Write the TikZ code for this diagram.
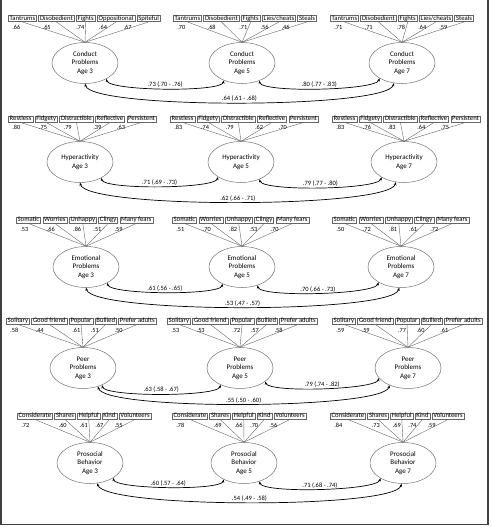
\documentclass[tikz,border=0pt]{standalone}
\usepackage{fontspec}
\setmainfont{Carlito}
\usetikzlibrary{positioning,calc,shapes.geometric,arrows.meta}

\tikzset{
  item/.style={draw=black!60, line width=0.5pt, font=\fontsize{6.7}{7}\selectfont,
    inner xsep=1.4pt, inner ysep=0pt, text height=4.8pt, text depth=1.6pt},
  factor/.style={ellipse, draw=black!55, line width=0.5pt, minimum width=66pt,
    minimum height=41pt, inner sep=0pt, align=center, font=\fontsize{7}{8.6}\selectfont},
  load/.style={font=\fontsize{6.3}{7}\selectfont, inner sep=0.5pt},
  link/.style={draw=black!60, line width=0.4pt},
  corr/.style={{Stealth[length=3.2pt,width=2.6pt]}-{Stealth[length=3.2pt,width=2.6pt]},
    line width=0.7pt},
  short/.style={out=-75, in=-105, looseness=0.27},
  long/.style={out=-75, in=-105, looseness=0.22},
  est/.style={font=\fontsize{6.5}{7}\selectfont, inner sep=0.8pt, above}
}

% #1 name, #2/#3 factor centre, #4/#5 first indicator, #6 factor text, #7 indicator/loading list
\newcommand{\factorblock}[7]{%
  \node[factor] (#1) at (#2,#3) {#6};
  \foreach \txt/\ld [count=\i] in {#7} {
    \ifnum\i=1
      \node[item, anchor=west] (#1-\i) at (#4,#5) {\txt};
    \else
      \pgfmathtruncatemacro\prev{\i-1}
      \node[item, right=1.6pt of #1-\prev] (#1-\i) {\txt};
    \fi
    \draw[link] (#1-\i.south) -- (#1.north);
    \path let \p1=(#1-\i.south west), \p2=($(#1-\i.south)!0.25!(#1.north)$) in
      node[load, anchor=east] at ({min(\x1+13pt,\x2-0.5pt)},\y2) {\ld};
  }
}

\begin{document}
\begin{tikzpicture}[x=1pt, y=1pt]
\useasboundingbox (0,0) rectangle (491,-527);
\draw[black!75, line width=1.3pt] (1,0) -- (1,-524.5) -- (488,-524.5) -- (488,0);

% conduct problems
\factorblock{con3}{85}{-63}{8}{-18.5}{Conduct\\Problems\\Age 3}
  {Tantrums/.66, Disobedient/.65, Fights/.74, Oppositional/.64, Spiteful/.67}
\factorblock{con5}{242}{-63}{173}{-18.5}{Conduct\\Problems\\Age 5}
  {Tantrums/.70, Disobedient/.68, Fights/.71, {Lies/cheats}/.56, Steals/.46}
\factorblock{con7}{402}{-63}{330}{-18.5}{Conduct\\Problems\\Age 7}
  {Tantrums/.71, Disobedient/.71, Fights/.78, {Lies/cheats}/.64, Steals/.59}
\draw[corr] (con3.-37) to[short] node[est] {.73 (.70 - .76)} (con5.-136);
\draw[corr] (con5.-46) to[short] node[est] {.80 (.77 - .83)} (con7.-146);
\draw[corr] (con3.-90) to[long] node[est] {.64 (.61 - .68)} (con7.-112);

% hyperactivity
\factorblock{hyp3}{80}{-162}{8}{-119}{Hyperactivity\\Age 3}
  {Restless/.80, Fidgety/.75, Distractible/.79, Reflective/.39, Persistent/.63}
\factorblock{hyp5}{241}{-162}{170}{-119}{Hyperactivity\\Age 5}
  {Restless/.83, Fidgety/.74, Distractible/.79, Reflective/.62, Persistent/.70}
\factorblock{hyp7}{404}{-162}{332}{-119}{Hyperactivity\\Age 7}
  {Restless/.83, Fidgety/.76, Distractible/.83, Reflective/.64, Persistent/.75}
\draw[corr] (hyp3.-37) to[short] node[est] {.71 (.69 - .73)} (hyp5.-147);
\draw[corr] (hyp5.-43) to[short] node[est] {.79 (.77 - .80)} (hyp7.-146);
\draw[corr] (hyp3.-90) to[long] node[est] {.62 (.66 - .71)} (hyp7.-112);

% emotional problems
\factorblock{emo3}{86}{-267}{16}{-220}{Emotional\\Problems\\Age 3}
  {Somatic/.53, Worries/.66, Unhappy/.86, Clingy/.51, Many fears/.59}
\factorblock{emo5}{242}{-267}{172}{-220}{Emotional\\Problems\\Age 5}
  {Somatic/.51, Worries/.70, Unhappy/.82, Clingy/.53, Many fears/.70}
\factorblock{emo7}{401}{-267}{332}{-220}{Emotional\\Problems\\Age 7}
  {Somatic/.50, Worries/.72, Unhappy/.81, Clingy/.61, Many fears/.72}
\draw[corr] (emo3.-37) to[short] node[est] {.61 (.56 - .65)} (emo5.-139);
\draw[corr] (emo5.-50) to[short] node[est] {.70 (.66 - .73)} (emo7.-146);
\draw[corr] (emo3.-90) to[long] node[est] {.53 (.47 - .57)} (emo7.-95);

% peer problems
\factorblock{peer3}{83}{-368}{6}{-321}{Peer\\Problems\\Age 3}
  {Solitary/.58, Good friend/.44, Popular/.61, Bullied/.51, Prefer adults/.50}
\factorblock{peer5}{240}{-368}{167}{-321}{Peer\\Problems\\Age 5}
  {Solitary/.53, Good friend/.53, Popular/.72, Bullied/.57, Prefer adults/.58}
\factorblock{peer7}{408}{-368}{332}{-321}{Peer\\Problems\\Age 7}
  {Solitary/.59, Good friend/.59, Popular/.77, Bullied/.60, Prefer adults/.61}
\draw[corr] (peer3.-42) to[short] node[est] {.63 (.58 - .67)} (peer5.-139);
\draw[corr] (peer5.-28) to[short] node[est] {.79 (.74 - .82)} (peer7.-161);
\draw[corr] (peer3.-51) to[long] node[est] {.55 (.50 - .60)} (peer7.-137);

% prosocial behavior
\factorblock{pro3}{90}{-463}{17}{-416}{Prosocial\\Behavior\\Age 3}
  {Considerate/.72, Shares/.60, Helpful/.61, Kind/.67, Volunteers/.55}
\factorblock{pro5}{244}{-463}{172}{-416}{Prosocial\\Behavior\\Age 5}
  {Considerate/.78, Shares/.69, Helpful/.66, Kind/.70, Volunteers/.56}
\factorblock{pro7}{403}{-463}{330}{-416}{Prosocial\\Behavior\\Age 7}
  {Considerate/.84, Shares/.73, Helpful/.69, Kind/.74, Volunteers/.59}
\draw[corr] (pro3.-33) to[short] node[est] {.60 (.57 - .64)} (pro5.-141);
\draw[corr] (pro5.-50) to[short] node[est] {.71 (.68 - .74)} (pro7.-146);
\draw[corr] (pro3.-70) to[long] node[est] {.54 (.49 - .58)} (pro7.-94);
\end{tikzpicture}
\end{document}
